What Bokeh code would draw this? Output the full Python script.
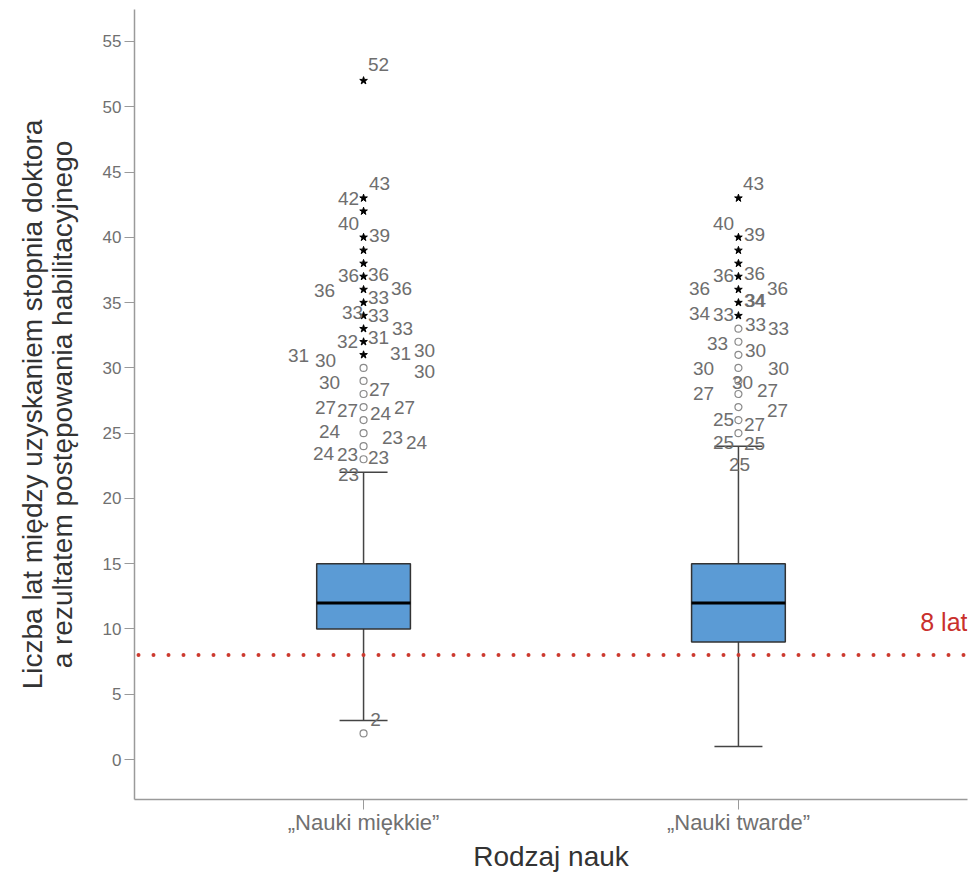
import math
from bokeh.plotting import figure
from bokeh.models import Range1d, FixedTicker, Span, Label, ColumnDataSource
from bokeh.core.properties import value
from bokeh.embed import file_html
from bokeh.resources import INLINE

FONT = "Liberation Sans"

# ---------------- data ----------------
categories = ["„Nauki miękkie”", "„Nauki twarde”"]
cat_pos = [1, 2]
q1 = [10, 9]
median = [12, 12]
q3 = [15, 15]
whisker_low = [3, 1]
whisker_high = [22, 24]

soft_mild = [2, 23, 24, 25, 26, 27, 28, 29, 30]
soft_extreme = [31, 32, 33, 34, 35, 36, 37, 38, 39, 40, 42, 43, 52]
hard_mild = [25, 26, 27, 28, 29, 30, 31, 32, 33]
hard_extreme = [34, 35, 36, 37, 38, 39, 40, 43]

soft_labels = ["52", "43", "42", "40", "39", "36", "36", "36", "33", "36", "33", "33", "33",
               "32", "31", "31", "30", "31", "30", "30", "30", "27", "27", "27", "24", "27",
               "24", "23", "24", "24", "23", "23", "23", "2"]
soft_label_y = [53.24, 44.14, 42.99, 41.08, 40.16, 37.10, 37.18, 35.95, 35.42, 36.10, 34.27,
                34.04, 33.05, 32.05, 32.36, 30.98, 30.60, 31.13, 31.36, 29.76, 28.91, 28.38,
                27.00, 26.77, 26.54, 27.00, 25.09, 24.63, 24.25, 23.48, 23.33, 23.10, 21.80, 3.06]
soft_label_dx = [15, 16, -15, -15, 16, -15, 15, -39, 15, 38, -11, 15, 39, -16, 15, -65, -38,
                 37, 61, 61, -34, 16, -38, -16, 17, 41, -34, 29, 53, -40, -16, 15, -15, 12]

hard_labels = ["43", "40", "39", "36", "36", "36", "36", "34", "34", "34", "33", "33", "33",
               "33", "30", "30", "30", "30", "27", "27", "27", "25", "27", "25", "25", "25"]
hard_label_y = [44.14, 41.08, 40.24, 37.10, 37.25, 36.10, 36.10, 35.19, 35.19, 34.19, 34.12,
                33.35, 33.05, 31.90, 31.36, 29.99, 29.99, 28.91, 28.07, 28.30, 26.70, 26.08,
                25.70, 24.25, 24.17, 22.57]
hard_label_dx = [15, -15, 16, -15, 16, -39, 39, 16, 17, -39, -15, 17, 40, -21, 17, -35, 40, 4,
                 -35, 29, 39, -15, 16, -15, 16, 1]

threshold = 8
threshold_label = "8 lat"
y_ticks = [0, 5, 10, 15, 20, 25, 30, 35, 40, 45, 50, 55]
y_title = "Liczba lat między uzyskaniem stopnia doktora\na rezultatem postępowania habilitacyjnego"

# ---------------- figure ----------------
p = figure(width=973, height=874, output_backend="svg", toolbar_location=None,
           x_range=Range1d(0.389, 2.611), y_range=Range1d(-3.06, 57.45),
           min_border_left=134, min_border_right=6, min_border_top=9, min_border_bottom=74)
p.xgrid.visible = False
p.ygrid.visible = False
p.outline_line_color = None
p.background_fill_color = "white"
p.border_fill_color = "white"

# axes
for ax in (p.xaxis[0], p.yaxis[0]):
    ax.axis_line_color = "#9a9a9a"
    ax.axis_line_width = 1.5
    ax.major_tick_line_color = "#9a9a9a"
    ax.major_tick_line_width = 1
    ax.major_tick_in = 0
    ax.major_tick_out = 10
    ax.minor_tick_line_color = None
    ax.major_label_text_font = FONT
    ax.major_label_text_color = "#707070"

p.yaxis.ticker = FixedTicker(ticks=y_ticks)
p.yaxis.major_label_text_font_size = "17px"
p.yaxis.major_label_standoff = 3
p.yaxis.axis_label = y_title
p.yaxis.axis_label_text_font = FONT
p.yaxis.axis_label_text_font_size = "28px"
p.yaxis.axis_label_text_font_style = "normal"
p.yaxis.axis_label_text_color = "#333333"
p.yaxis.axis_label_text_line_height = 0.97
p.yaxis.axis_label_standoff = 22

p.xaxis.ticker = FixedTicker(ticks=cat_pos)
p.xaxis.major_label_overrides = {pos: c for pos, c in zip(cat_pos, categories)}
p.xaxis.major_label_text_font_size = "22px"
p.xaxis.major_label_standoff = 0
p.xaxis.axis_label = "Rodzaj nauk"
p.xaxis.axis_label_text_font = FONT
p.xaxis.axis_label_text_font_size = "28px"
p.xaxis.axis_label_text_font_style = "normal"
p.xaxis.axis_label_text_color = "#333333"
p.xaxis.axis_label_standoff = 3

# threshold line
p.add_layout(Span(location=threshold, dimension="width", line_color="#cc3a2f",
                  line_width=4, line_dash="0 15", line_cap="round", line_dash_offset=-4))
p.add_layout(Label(x=2.611, y=10.56, text=threshold_label, text_align="right",
                   text_baseline="middle", text_font=FONT, text_font_size="25px",
                   text_color="#c9302c"))

# whiskers
half_cap = 0.064
half_box = 0.125
p.segment(x0=cat_pos, x1=cat_pos, y0=q3, y1=whisker_high, line_color="#444444", line_width=1.5)
p.segment(x0=cat_pos, x1=cat_pos, y0=q1, y1=whisker_low, line_color="#444444", line_width=1.5)
p.segment(x0=[c - half_cap for c in cat_pos], x1=[c + half_cap for c in cat_pos],
          y0=whisker_high, y1=whisker_high, line_color="#444444", line_width=1.5)
p.segment(x0=[c - half_cap for c in cat_pos], x1=[c + half_cap for c in cat_pos],
          y0=whisker_low, y1=whisker_low, line_color="#444444", line_width=1.5)

# boxes
p.vbar(x=cat_pos, width=2 * half_box, bottom=q1, top=q3, fill_color="#5b9bd5",
       line_color="#333333", line_width=1.5)
p.segment(x0=[c - half_box for c in cat_pos], x1=[c + half_box for c in cat_pos],
          y0=median, y1=median, line_color="black", line_width=3)

# outliers
mild_x = [cat_pos[0]] * len(soft_mild) + [cat_pos[1]] * len(hard_mild)
mild_y = soft_mild + hard_mild
ext_x = [cat_pos[0]] * len(soft_extreme) + [cat_pos[1]] * len(hard_extreme)
ext_y = soft_extreme + hard_extreme
p.scatter(x=mild_x, y=mild_y, marker="circle", size=7, fill_color="white",
          line_color="#8a8a8a", line_width=1.2)
p.scatter(x=ext_x, y=ext_y, marker="star", size=8, fill_color="black", line_color="black")

# outlier labels
lab_src = ColumnDataSource(data=dict(
    x=[cat_pos[0]] * len(soft_labels) + [cat_pos[1]] * len(hard_labels),
    y=soft_label_y + hard_label_y,
    dx=soft_label_dx + hard_label_dx,
    t=soft_labels + hard_labels,
))
p.text(x="x", y="y", x_offset="dx", text="t", source=lab_src, text_align="center",
       text_baseline="middle", text_font=value(FONT), text_font_size="19px",
       text_color="#6e6e6e")

open("out.html", "w").write(file_html(p, INLINE))
